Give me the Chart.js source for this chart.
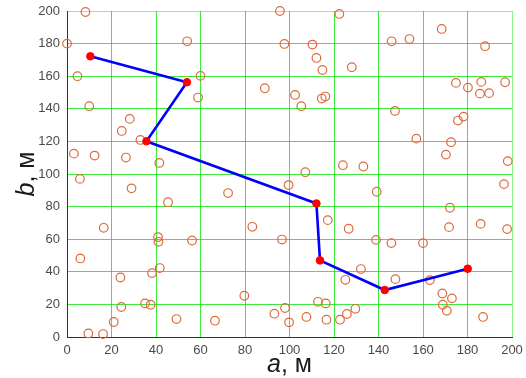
<!DOCTYPE html>
<html>
<head>
<meta charset="utf-8">
<script src="https://cdn.jsdelivr.net/npm/chart.js@4.4.0/dist/chart.umd.min.js"></script>
<style>
  html, body { margin: 0; padding: 0; background: #fff; }
  #wrap { width: 526px; height: 378px; position: relative; }
</style>
</head>
<body>
<div id="wrap"><canvas id="c" width="526" height="378"></canvas></div>
<script>
// random sites (hollow circles)
const siteA = [8.3, 0, 4.7, 10, 54, 60, 58.9, 88.9, 28.2, 24.6, 33, 3.1, 12.4, 26.5, 41.5, 5.8, 29, 72.4,
  95.7, 122.4, 168.4, 97.7, 110.3, 145.9, 153.9, 187.9, 112.1, 114.8, 128, 102.5, 105.3, 114.5, 116.1,
  147.4, 174.8, 180.2, 186.2, 185.6, 189.7, 196.9, 178.2, 175.7, 157, 172.6, 170.3, 198.1, 124, 133.2,
  107.1, 99.6, 196.4, 139.2, 172.1, 117.2, 126.6, 185.9, 171.7, 197.8, 96.6, 138.9, 145.8, 160, 132.1,
  125.1, 147.6, 163.1, 168.7, 173, 168.9, 170.7, 187, 112.8, 116.3, 98, 93.2, 99.8, 107.6, 116.6, 122.7,
  125.8, 129.6, 45.4, 16.5, 83.3, 40.9, 41.1, 56.2, 6, 24, 41.7, 38.2, 79.7, 35.1, 37.6, 24.4, 49.2,
  66.5, 21, 9.6, 16.2]
const siteB = [199.4, 180, 160, 141.6, 181.4, 160.2, 146.9, 152.6, 133.8, 126.4, 120.9, 112.5, 111.3, 110.1, 106.8, 97, 91.2, 88.3,
  200, 198.2, 189, 179.8, 179.4, 181.4, 182.8, 178.4, 171.2, 163.8, 165.5, 148.5, 141.6, 146.3, 147.5,
  138.7, 155.9, 153, 156.5, 149.3, 149.6, 156.3, 135.2, 132.8, 121.7, 119.5, 111.9, 107.9, 105.4, 104.6,
  101.1, 93.2, 93.8, 89.1, 79.3, 71.7, 66.4, 69.4, 67.4, 66.2, 59.8, 59.6, 57.6, 57.6, 41.7,
  35.1, 35.5, 34.9, 26.7, 23.7, 19.8, 16.1, 12.3, 21.6, 20.6, 17.8, 14.3, 9.0, 12.3, 10.6, 10.6,
  14.1, 17.3, 82.7, 67, 67.6, 61.3, 58.4, 59.2, 48.2, 36.5, 42.3, 39.2, 25.3, 20.6, 19.8, 18.4, 11.0,
  10.0, 9.2, 2.2, 1.8]

// route (blue line, red nodes)
const routeA = [10.5, 53.9, 35.7, 112.1, 113.7, 142.8, 180.1]
const routeB = [172.2, 156.3, 120.1, 81.9, 47.0, 28.8, 41.9]

const tickValues = [0, 20, 40, 60, 80, 100, 120, 140, 160, 180, 200]

const toPoints = (xs, ys) => xs.map((x, i) => ({ x: x, y: ys[i] }))

const tickFont = { family: 'Liberation Sans, Arial, sans-serif', size: 13 }
const titleFont = '25px Liberation Sans, Arial, sans-serif'

// green grid, the top/right edge line a bit paler like the reference
const gridColor = (c) => (c.tick && c.tick.value === 200 ? 'rgba(0,230,0,0.45)' : 'rgba(0,225,0,0.75)')

// draws "a, м" / "b, м" with italic letter and upright unit
const axisTitles = {
  id: 'axisTitles',
  afterDraw(chart) {
    const ctx = chart.ctx
    const area = chart.chartArea
    const put = (letter, rest, x, y) => {
      ctx.font = 'italic ' + titleFont
      const w1 = ctx.measureText(letter).width
      ctx.font = titleFont
      const w2 = ctx.measureText(rest).width
      const x0 = x - (w1 + w2) / 2
      ctx.font = 'italic ' + titleFont
      ctx.fillText(letter, x0, y)
      ctx.font = titleFont
      ctx.fillText(rest, x0 + w1, y)
    }
    ctx.save()
    ctx.fillStyle = '#1a1a1a'
    ctx.textBaseline = 'alphabetic'
    ctx.textAlign = 'left'
    put('a', ', м', (area.left + area.right) / 2, 372)
    ctx.translate(34, (area.top + area.bottom) / 2)
    ctx.rotate(-Math.PI / 2)
    put('b', ', м', 0, 0)
    ctx.restore()
  }
}

const axisOpts = (fit, pad) => ({
  type: 'linear',
  min: 0,
  max: 200,
  afterBuildTicks: (scale) => { scale.ticks = tickValues.map(v => ({ value: v })) },
  afterFit: (s) => {
    fit(s)
    s.paddingLeft = 0; s.paddingRight = 0; s.paddingTop = 0; s.paddingBottom = 0
  },
  grid: { color: gridColor, lineWidth: 1, drawTicks: false },
  border: { color: '#333', width: 1 },
  ticks: { color: '#4a4a4a', font: tickFont, padding: pad, maxRotation: 0 }
})

new Chart(document.getElementById('c').getContext('2d'), {
  type: 'scatter',
  data: {
    datasets: [
      {
        label: 'route',
        data: toPoints(routeA, routeB),
        showLine: true,
        clip: false,
        borderColor: '#0000ff',
        borderWidth: 2.6,
        pointRadius: 3.8,
        pointBackgroundColor: '#ff0000',
        pointBorderColor: '#ff0000',
        pointBorderWidth: 1,
        order: 0
      },
      {
        label: 'sites',
        data: toPoints(siteA, siteB),
        clip: false,
        pointRadius: 4.3,
        pointBorderWidth: 1.2,
        pointBackgroundColor: 'rgba(0,0,0,0)',
        pointBorderColor: '#df6a3a',
        order: 1
      }
    ]
  },
  options: {
    responsive: false,
    animation: false,
    layout: { padding: { top: 11, right: 14, left: 0, bottom: 0 } },
    plugins: { legend: { display: false }, tooltip: { enabled: false } },
    scales: {
      x: axisOpts((s) => { s.height = 41 }, 6),
      y: axisOpts((s) => { s.width = 67 }, 7)
    }
  },
  plugins: [axisTitles]
})
</script>
</body>
</html>
